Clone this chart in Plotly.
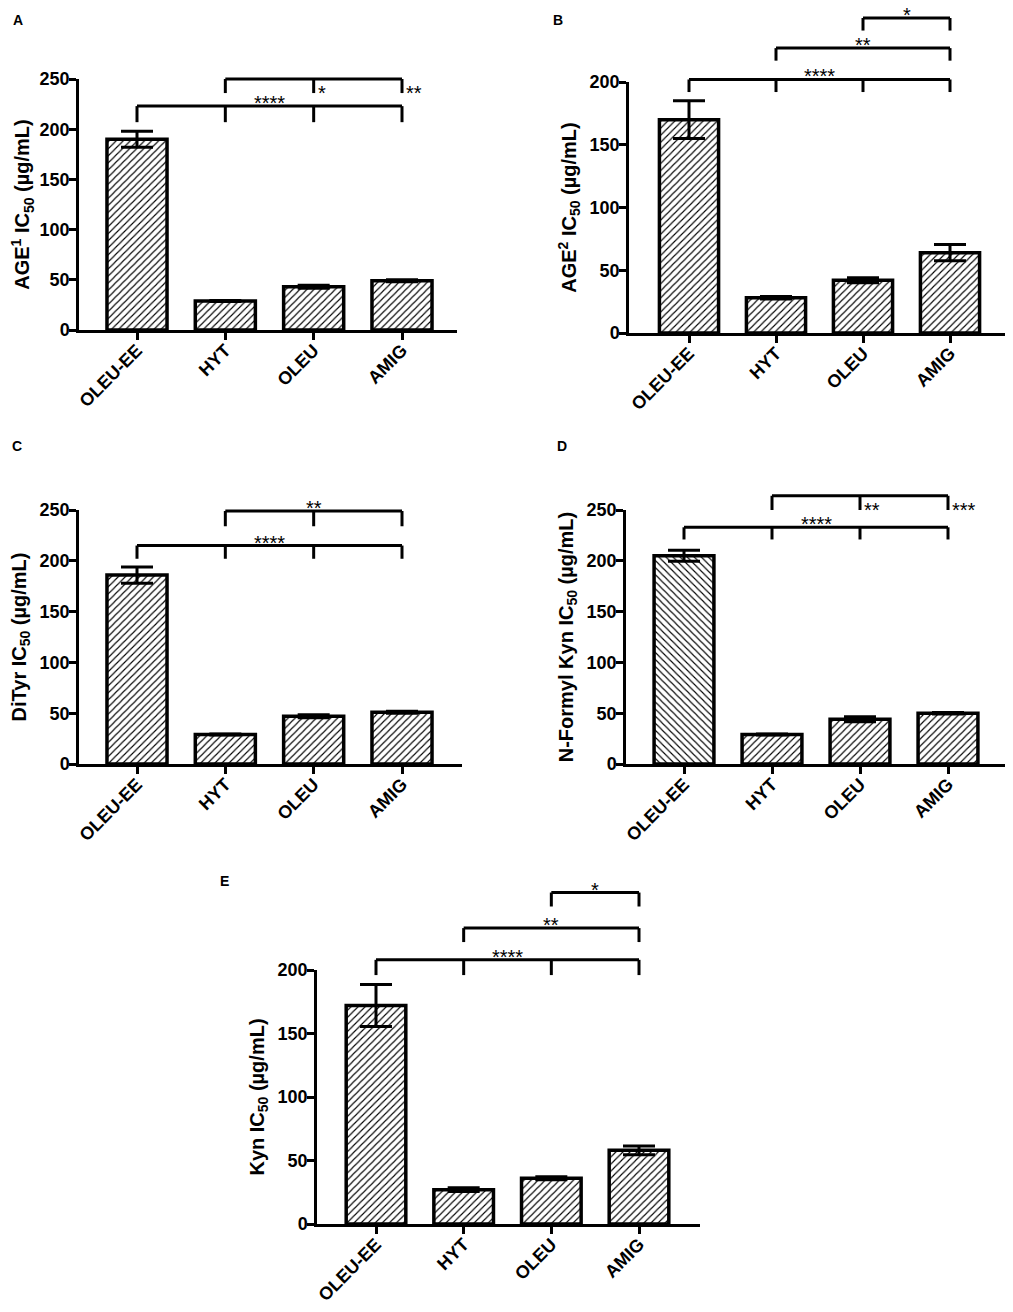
import plotly.graph_objects as go

# groups (same four compounds in every panel)
groups = ["OLEU-EE", "HYT", "OLEU", "AMIG"]

# IC50 means and SEM (µg/mL)
age1_mean = [190, 29, 43, 49]
age1_err = [8, 0.5, 1.5, 1]
age2_mean = [170, 28, 42, 64]
age2_err = [15, 1, 2, 6.5]
dityr_mean = [186, 29, 47, 51]
dityr_err = [8, 0.5, 1.5, 1]
nfk_mean = [205, 29, 44, 50]
nfk_err = [5.5, 0.5, 2.5, 0.8]
kyn_mean = [172, 27, 36, 58]
kyn_err = [16.5, 1.5, 1.2, 3.5]

# significance brackets: (group indices, bracket height, drop length, label)
# a list label is written beside each drop instead of in the middle
age1_brk = [([0, 1, 2, 3], 223, 16, "****"), ([1, 2, 3], 250, 14, ["", "*", "**"])]
age2_brk = [([0, 1, 2, 3], 202, 10, "****"), ([1, 3], 227, 10, "**"), ([2, 3], 251, 10, "*")]
dityr_brk = [([0, 1, 2, 3], 215, 13, "****"), ([1, 2, 3], 249, 15, "**")]
nfk_brk = [([0, 1, 2, 3], 233, 12, "****"), ([1, 2, 3], 264, 14, ["", "**", "***"])]
kyn_brk = [([0, 1, 2, 3], 208, 12, "****"), ([1, 3], 233, 11, "**"), ([2, 3], 261, 11, "*")]

FONT = "Liberation Sans, Arial, sans-serif"

# page is drawn inside the browser's 8px body margin
PAD = 8
W, H = 1013 - 2 * PAD, 1312 - 2 * PAD


def px(x):
    return min(max((x - PAD) / W, 0), 1)


def py(y):
    return min(max(1 - (y - PAD) / H, 0), 1)


# letter, means, errors, brackets, ymax, title, hatch,
# plot box in page pixels (left, right, top, bottom), first/last bar centre, letter pos
panels = [
    ("A", age1_mean, age1_err, age1_brk, 250, "AGE<sup>1</sup> IC<sub>50</sub> (µg/mL)",
     ["/"] * 4, (79, 457, 79, 330), (137, 402), (18, 20)),
    ("B", age2_mean, age2_err, age2_brk, 200, "AGE<sup>2</sup> IC<sub>50</sub> (µg/mL)",
     ["/"] * 4, (629, 1005, 82, 333), (689, 950), (558, 20)),
    ("C", dityr_mean, dityr_err, dityr_brk, 250, "DiTyr IC<sub>50</sub> (µg/mL)",
     ["/"] * 4, (79, 462, 510, 764), (137, 402), (17, 446)),
    ("D", nfk_mean, nfk_err, nfk_brk, 250, "N-Formyl Kyn IC<sub>50</sub> (µg/mL)",
     ["\\", "/", "/", "/"], (626, 1005, 510, 764), (684, 948), (562, 446)),
    ("E", kyn_mean, kyn_err, kyn_brk, 200, "Kyn IC<sub>50</sub> (µg/mL)",
     ["/"] * 4, (317, 700, 970, 1224), (376, 639), (224, 881)),
]

fig = go.Figure()
shapes = []
annots = []

for n, (letter, mean, err, brk, ymax, title, hatch, box, cen, lpos) in enumerate(panels, start=1):
    sfx = "" if n == 1 else str(n)
    xs = list(range(len(groups)))
    left, right, top, bottom = box
    step = (cen[1] - cen[0]) / (len(groups) - 1)
    xr = [(left - cen[0]) / step, (right - cen[0]) / step]

    fig.add_trace(go.Bar(
        x=xs, y=mean,
        width=0.68,
        marker=dict(color="white",
                    line=dict(color="black", width=3.5),
                    pattern=dict(shape=hatch, fgcolor="black", bgcolor="white",
                                 size=5, solidity=0.22)),
        error_y=dict(type="data", array=err, color="black", thickness=3, width=16),
        xaxis="x" + sfx, yaxis="y" + sfx,
        showlegend=False,
    ))
    fig.update_layout(**{
        "xaxis" + sfx: dict(
            domain=[px(left), px(right)], anchor="y" + sfx, range=xr,
            tickvals=xs, ticktext=groups, tickangle=-45,
            showline=True, linecolor="black", linewidth=2.5,
            ticks="outside", ticklen=7, tickwidth=2.5, tickcolor="black",
            ticklabelstandoff=-7,
            showgrid=False, zeroline=False, automargin=False,
            tickfont=dict(family=FONT, size=18, color="black", weight="bold"),
        ),
        "yaxis" + sfx: dict(
            domain=[py(bottom), py(top)], anchor="x" + sfx, range=[0, ymax],
            tickvals=list(range(0, ymax + 1, 50)),
            showline=True, linecolor="black", linewidth=2.5,
            ticks="outside", ticklen=7, tickwidth=2.5, tickcolor="black",
            ticklabelstandoff=-4,
            showgrid=False, zeroline=False, automargin=False,
            tickfont=dict(family=FONT, size=18, color="black", weight="bold"),
            title=dict(text=title, standoff=8,
                       font=dict(family=FONT, size=20, color="black", weight="bold")),
        ),
    })

    xref = "x" + sfx
    yref = "y" + sfx + " domain"
    for idx, level, drop, label in brk:
        yt = level / ymax
        yb = (level - drop) / ymax
        shapes.append(dict(type="line", xref=xref, yref=yref, x0=idx[0], x1=idx[-1],
                           y0=yt, y1=yt, line=dict(color="black", width=3)))
        for i in idx:
            shapes.append(dict(type="line", xref=xref, yref=yref, x0=i, x1=i,
                               y0=yt, y1=yb, line=dict(color="black", width=3)))
        if isinstance(label, str):
            annots.append(dict(x=(idx[0] + idx[-1]) / 2, y=yt, xref=xref, yref=yref,
                               text=label, showarrow=False, yanchor="middle", yshift=3,
                               font=dict(family=FONT, size=20, color="black")))
        else:
            for i, lab in zip(idx, label):
                if lab:
                    annots.append(dict(x=i, y=yt, xref=xref, yref=yref, text=lab,
                                       showarrow=False, xanchor="left", xshift=2,
                                       yanchor="top", yshift=-1,
                                       font=dict(family=FONT, size=20, color="black")))

    annots.append(dict(x=px(lpos[0]), y=py(lpos[1]), xref="paper", yref="paper", text=letter,
                       showarrow=False, xanchor="center", yanchor="middle",
                       font=dict(family=FONT, size=14, color="black", weight="bold")))

fig.update_layout(
    template="none",
    width=W, height=H,
    margin=dict(l=0, r=0, t=0, b=0),
    paper_bgcolor="white", plot_bgcolor="white",
    shapes=shapes,
    annotations=annots,
)

fig.write_html("out.html")
